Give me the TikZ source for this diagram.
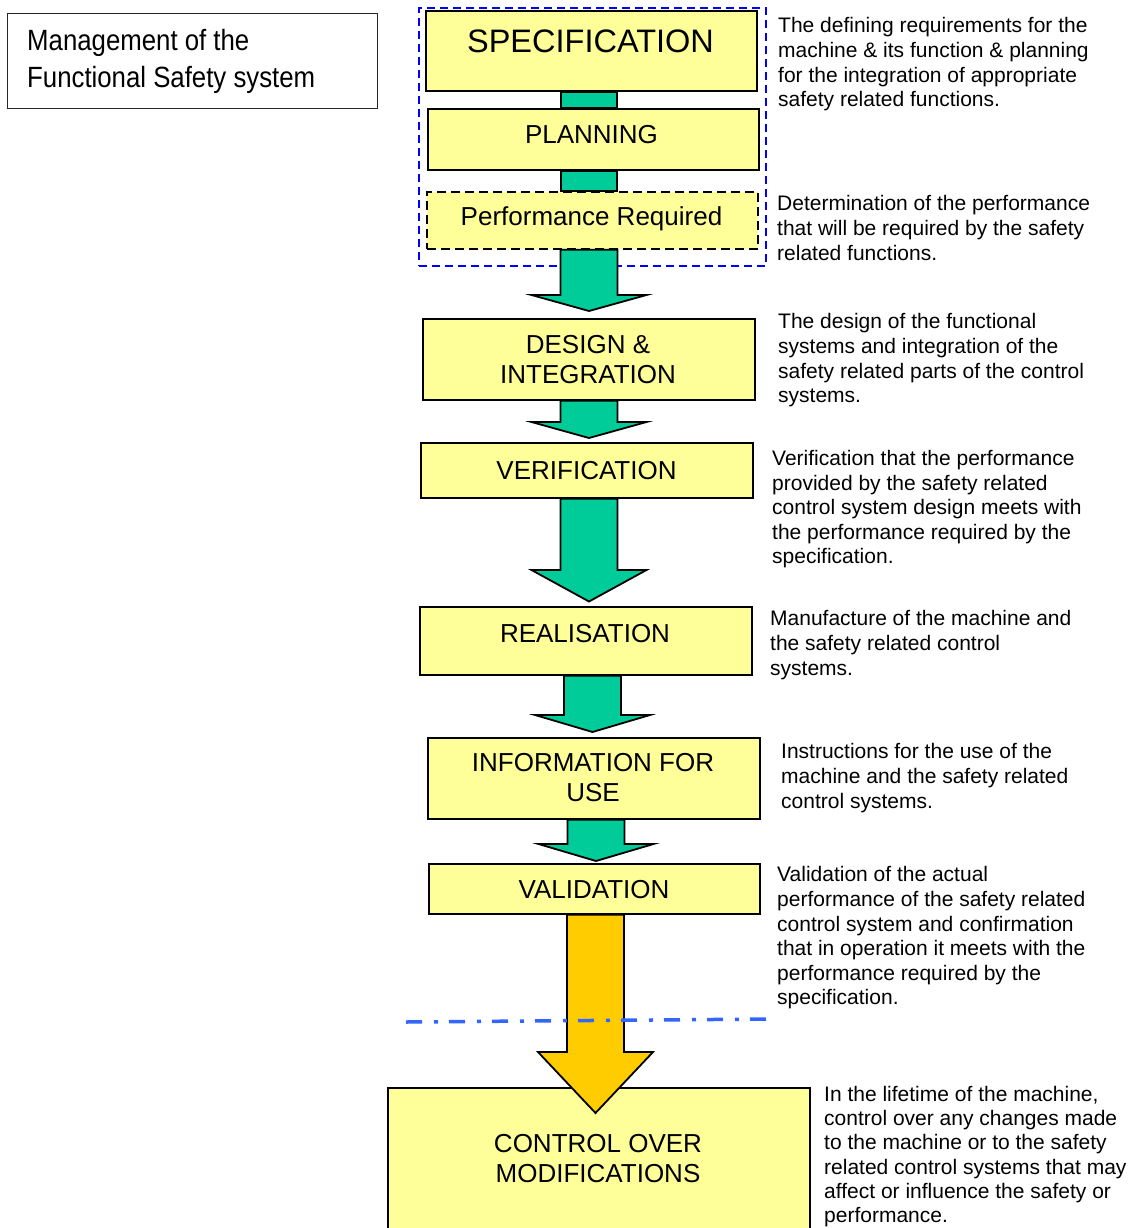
\documentclass[tikz,border=0pt]{standalone}
\usepackage{fontspec}
\setmainfont{Liberation Sans}
\newfontfamily\narrowsans[FakeStretch=0.88]{Liberation Sans}
\usetikzlibrary{calc}

\definecolor{boxfill}{HTML}{FFFF99}
\definecolor{flowgreen}{HTML}{00CC99}
\definecolor{flowgold}{HTML}{FFCC00}
\definecolor{groupblue}{HTML}{0000FF}
\definecolor{lineblue}{HTML}{3366FF}

\tikzset{
  stagebox/.style={draw=black, line width=1.8pt, fill=boxfill, inner sep=0pt, anchor=north west},
  stagetext/.style={font=\fontsize{26}{30}\selectfont, align=center, inner sep=0pt},
  note/.style={font=\fontsize{21}{24.6}\selectfont, align=left, inner sep=0pt, anchor=north west},
  flow/.style={draw=black, line width=1.8pt, fill=flowgreen, line join=miter},
  goldflow/.style={flow, fill=flowgold},
}

% block arrow: [style]{from}{to}{centre x}{neck y}{tip offset from target top}
\newcommand{\flowarrow}[6][flow]{%
  \draw[#1] (#4-28.5,0 |- #2.south) -- (#4-28.5,#5) -- (#4-57.5,#5)
    -- ($(#4,0 |- #3.north)+(0,#6)$)
    -- (#4+57.5,#5) -- (#4+28.5,#5) -- (#4+28.5,0 |- #2.south) -- cycle;}

\begin{document}
\begin{tikzpicture}[x=1pt, y=-1pt]
\useasboundingbox (0,0) rectangle (1134,1228);
\clip (0,0) rectangle (1134,1228);

% title box
\node[draw=black!85, line width=1pt, minimum width=370pt, minimum height=95pt,
      anchor=north west, inner sep=0pt] (mgmt) at (7,13) {};
\node[font=\narrowsans\fontsize{29.3}{36.7}\selectfont, align=left, inner sep=0pt,
      anchor=north west] (mgmttext) at (27,29) {Management of the\\Functional Safety system};

% group around the first three stages
\node[draw=groupblue, line width=1.6pt, dash pattern=on 8pt off 5pt,
      minimum width=347pt, minimum height=258pt, anchor=north west, inner sep=0pt] (group) at (418,7) {};

% stage boxes
\node[stagebox, minimum width=331pt, minimum height=80pt] (spec) at (425,10) {};
\node[stagebox, minimum width=331pt, minimum height=61pt] (plan) at (427,108) {};
\node[stagebox, minimum width=331pt, minimum height=57pt, dash pattern=on 9pt off 5pt] (perf) at (426,191) {};
\node[stagebox, minimum width=332pt, minimum height=81pt] (design) at (422,318) {};
\node[stagebox, minimum width=332pt, minimum height=55pt] (verif) at (420,442) {};
\node[stagebox, minimum width=332pt, minimum height=68pt] (realis) at (419,606) {};
\node[stagebox, minimum width=332pt, minimum height=81pt] (info) at (427,737) {};
\node[stagebox, minimum width=331pt, minimum height=50pt] (valid) at (428,863) {};
\node[stagebox, minimum width=422pt, minimum height=170pt] (ctrl) at (387,1087) {};

% stage labels
\node[stagetext, font=\fontsize{32.5}{36}\selectfont, anchor=base] (specT) at (590.5,53) {SPECIFICATION};
\node[stagetext, anchor=base] (planT) at (591.5,143) {PLANNING};
\node[stagetext, anchor=base] (perfT) at (591.5,225.5) {Performance Required};
\node[stagetext, anchor=north] (designT) at (588,335) {DESIGN \&\\INTEGRATION};
\node[stagetext, anchor=base] (verifT) at (586.5,479) {VERIFICATION};
\node[stagetext, anchor=base] (realisT) at (585,642) {REALISATION};
\node[stagetext, anchor=north] (infoT) at (593,753) {INFORMATION FOR\\USE};
\node[stagetext, anchor=base] (validT) at (594,898) {VALIDATION};
\node[stagetext, anchor=north] (ctrlT) at (598,1134) {CONTROL OVER\\MODIFICATIONS};

% connectors
\draw[flow] (561,0 |- spec.south) rectangle (617,0 |- plan.north);
\draw[flow] (561,0 |- plan.south) rectangle (617,0 |- perf.north);
\flowarrow{perf}{design}{589}{295}{-7}
\flowarrow{design}{verif}{589}{422}{-4}
\flowarrow{verif}{realis}{589}{570}{-4.5}
\flowarrow{realis}{info}{592.5}{715}{-5}
\flowarrow{info}{valid}{596}{844}{-2}
\flowarrow[goldflow]{valid}{ctrl}{595.5}{1052}{26}

% boundary line
\coordinate (cutL) at (406,1022);
\coordinate (cutR) at (773,1019);
\draw[lineblue, line width=3.5pt, dash pattern=on 16pt off 12pt on 4pt off 11pt] (cutL) -- (cutR);

% descriptions
\node[note] (n1) at (778,17.5) {The defining requirements for the\\machine \& its function \& planning\\for the integration of appropriate\\safety related functions.};
\node[note] (n2) at (777,195.5) {Determination of the performance\\that will be required by the safety\\related functions.};
\node[note] (n3) at (778,313.5) {The design of the functional\\systems and integration of the\\safety related parts of the control\\systems.};
\node[note] (n4) at (772,450) {Verification that the performance\\provided by the safety related\\control system design meets with\\the performance required by the\\specification.};
\node[note] (n5) at (770,610.5) {Manufacture of the machine and\\the safety related control\\systems.};
\node[note] (n6) at (781,743.5) {Instructions for the use of the\\machine and the safety related\\control systems.};
\node[note] (n7) at (777,866.5) {Validation of the actual\\performance of the safety related\\control system and confirmation\\that in operation it meets with the\\performance required by the\\specification.};
\node[note, font=\fontsize{21}{24.2}\selectfont] (n8) at (824,1086) {In the lifetime of the machine,\\control over any changes made\\to the machine or to the safety\\related control systems that may\\affect or influence the safety or\\performance.};
\end{tikzpicture}
\end{document}
